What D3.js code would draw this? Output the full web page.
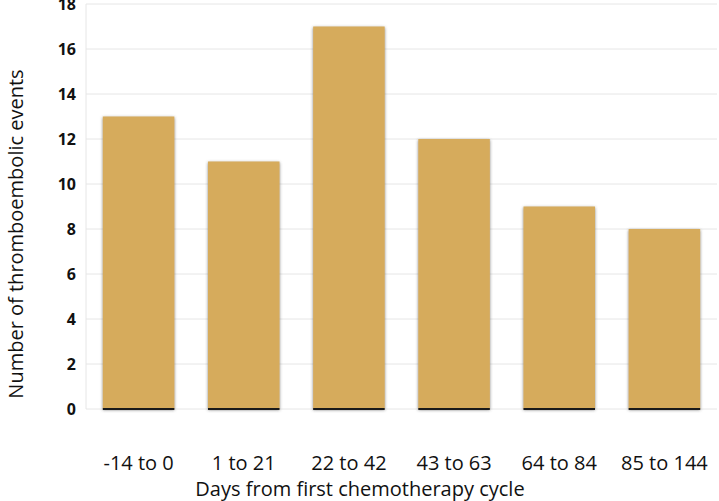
<!DOCTYPE html>
<html>
<head>
<meta charset="utf-8">
<script src="https://cdn.jsdelivr.net/npm/d3@7"></script>
<style>
  body { margin: 0; background: #fff; }
  svg { display: block; font-family: "Open Sans", "Liberation Sans", sans-serif; }
</style>
</head>
<body>
<svg id="chart" width="719" height="501"></svg>
<script>
// ######## data
const categories = ["-14 to 0", "1 to 21", "22 to 42", "43 to 63", "64 to 84", "85 to 144"];
const events = [13, 11, 17, 12, 9, 8];
const yTicks = [0, 2, 4, 6, 8, 10, 12, 14, 16, 18];

const svg = d3.select("#chart");
const margin = { top: 4, right: 2, bottom: 92, left: 86 };
const width = 719 - margin.left - margin.right;
const height = 501 - margin.top - margin.bottom;

// soft shadow on the bar sides
const defs = svg.append("defs");
const filt = defs.append("filter").attr("id", "shadow")
    .attr("x", "-10%").attr("y", "-5%").attr("width", "120%").attr("height", "110%");
filt.append("feDropShadow").attr("dx", 0).attr("dy", 1)
    .attr("stdDeviation", 1.6).attr("flood-color", "#444").attr("flood-opacity", 0.7);

const g = svg.append("g").attr("transform", `translate(${margin.left},${margin.top})`);

const x = d3.scaleBand().domain(categories).range([0, width]).paddingInner(0.32).paddingOuter(0.16);
const y = d3.scaleLinear().domain([0, 18]).range([height, 0]);

// gridlines
g.selectAll(".grid").data(yTicks).enter().append("line")
    .attr("x1", 0).attr("x2", width)
    .attr("y1", d => y(d)).attr("y2", d => y(d))
    .attr("stroke", "#e6e6e6").attr("stroke-width", 1);
g.append("line").attr("x1", 0).attr("x2", 0).attr("y1", 0).attr("y2", height)
    .attr("stroke", "#e6e6e6");

// y axis labels
const yAxis = d3.axisLeft(y).tickValues(yTicks).tickSize(0).tickPadding(10);
g.append("g").call(yAxis)
    .call(s => s.select(".domain").remove())
    .selectAll("text")
    .attr("font-size", 16).attr("font-weight", "bold").attr("fill", "#111")
    .attr("font-family", "'Open Sans', sans-serif");

// bars
g.selectAll(".bar").data(events).enter().append("rect")
    .attr("x", (d, i) => x(categories[i]))
    .attr("y", d => y(d))
    .attr("width", x.bandwidth())
    .attr("height", d => height - y(d))
    .attr("fill", "#d6ab5c")
    .attr("filter", "url(#shadow)");

// dark base line under each bar
g.selectAll(".base").data(events).enter().append("line")
    .attr("x1", (d, i) => x(categories[i]))
    .attr("x2", (d, i) => x(categories[i]) + x.bandwidth())
    .attr("y1", height).attr("y2", height)
    .attr("stroke", "#1a1a1a").attr("stroke-width", 2);

// x axis labels
const xAxis = d3.axisBottom(x).tickSize(0).tickPadding(47);
g.append("g").attr("transform", `translate(0,${height})`).call(xAxis)
    .call(s => s.select(".domain").remove())
    .selectAll("text")
    .attr("font-size", 20).attr("fill", "#111")
    .attr("font-family", "'Open Sans', sans-serif");

// axis titles
svg.append("text")
    .attr("x", 360).attr("y", 496)
    .attr("text-anchor", "middle").attr("font-size", 20).attr("fill", "#111")
    .text("Days from first chemotherapy cycle");

svg.append("text")
    .attr("transform", "translate(23,234) rotate(-90)")
    .attr("text-anchor", "middle").attr("font-size", 20).attr("fill", "#111")
    .text("Number of thromboembolic events");
</script>
</body>
</html>
